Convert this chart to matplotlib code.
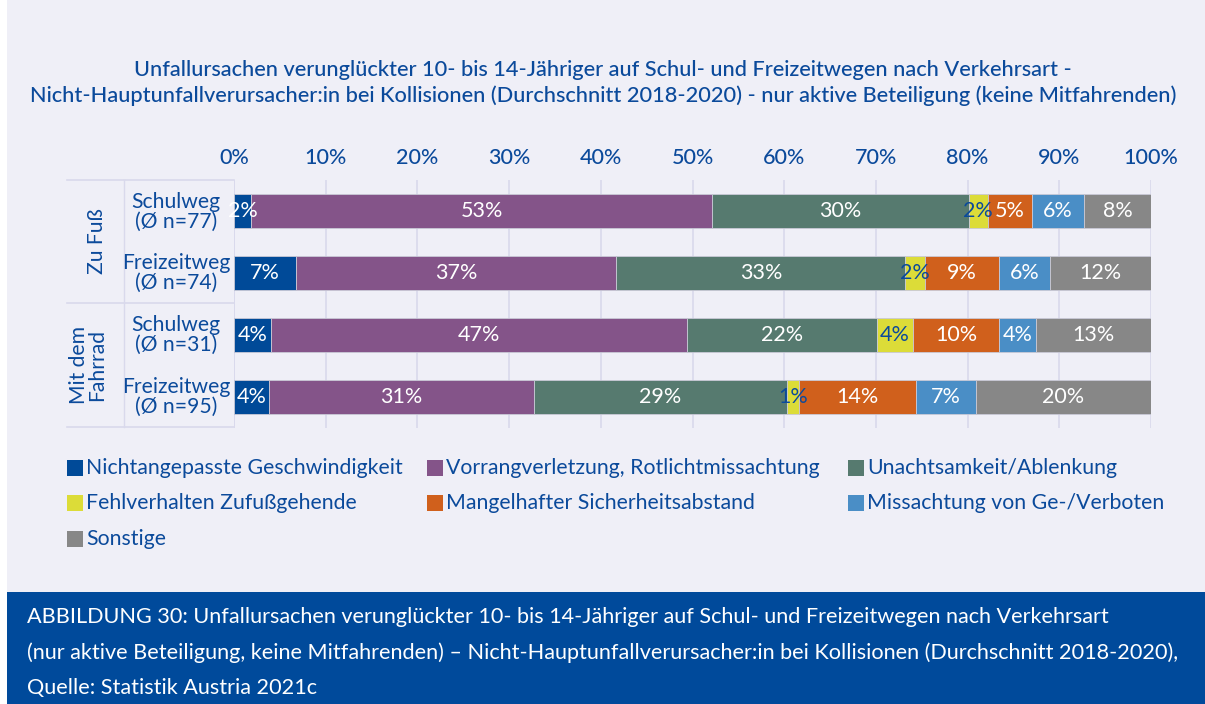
import numpy as np
import matplotlib.pyplot as plt
from matplotlib.patches import Rectangle

plt.rcParams['font.family'] = ['Lato', 'DejaVu Sans']

W, H = 1205, 704

categories = ["Nichtangepasste Geschwindigkeit", "Vorrangverletzung, Rotlichtmissachtung",
              "Unachtsamkeit/Ablenkung", "Fehlverhalten Zufußgehende",
              "Mangelhafter Sicherheitsabstand", "Missachtung von Ge-/Verboten", "Sonstige"]
colors = ["#004a98", "#845489", "#567a6f", "#dcdc38", "#d0601c", "#4a8ec6", "#878787"]

rows = ["Schulweg\n(Ø n=77)", "Freizeitweg\n(Ø n=74)", "Schulweg\n(Ø n=31)", "Freizeitweg\n(Ø n=95)"]
groups = ["Zu Fuß", "Mit dem\nFahrrad"]

# segment widths (bar lengths as drawn, in %)
widths = np.array([
    [1.9, 50.2, 28.0, 2.1, 4.8, 5.7, 7.3],
    [6.8, 34.9, 31.5, 2.1, 8.1, 5.6, 11.0],
    [4.0, 45.4, 20.7, 4.0, 9.3, 4.1, 12.5],
    [3.8, 28.9, 27.6, 1.3, 12.8, 6.5, 19.1],
])
# printed value labels
labels = [
    ["2%", "53%", "30%", "2%", "5%", "6%", "8%"],
    ["7%", "37%", "33%", "2%", "9%", "6%", "12%"],
    ["4%", "47%", "22%", "4%", "10%", "4%", "13%"],
    ["4%", "31%", "29%", "1%", "14%", "7%", "20%"],
]

bg = "#efeff7"
navy = "#0b4a9b"
gridc = "#d9d9ec"

fig = plt.figure(figsize=(W / 100, H / 100), dpi=100)
fig.patch.set_facecolor("white")

def fx(px):
    return px / W

def fy(py):
    return 1 - py / H

# panel background and bottom banner
fig.patches.append(Rectangle((fx(7), fy(592)), fx(1198), 592 / H, transform=fig.transFigure,
                             facecolor=bg, edgecolor="none", zorder=-10))
fig.patches.append(Rectangle((fx(7), 0), fx(1198), 112 / H, transform=fig.transFigure,
                             facecolor="#004a9b", edgecolor="none", zorder=-10))

ax = fig.add_axes([fx(234), fy(428), fx(917), 248 / H])
ax.set_facecolor(bg)
ax.set_xlim(0, 100)
ax.set_ylim(3.5, -0.5)

y = np.arange(len(rows))
left = np.zeros(len(rows))
for j, cat in enumerate(categories):
    ax.barh(y, widths[:, j], left=left, height=0.55, color=colors[j],
            edgecolor="#c9c9d6", linewidth=0.6, zorder=3, label=cat)
    for i in range(len(rows)):
        tc = navy if j == 3 else "white"
        ax.text(left[i] + widths[i, j] / 2, y[i], labels[i][j], ha="center", va="center",
                color=tc, fontsize=15.5, zorder=4)
    left += widths[:, j]

ax.xaxis.tick_top()
ax.set_xticks(np.arange(0, 101, 10))
ax.set_xticklabels([f"{t}%" for t in range(0, 101, 10)], fontsize=15.5, color=navy,
                   fontweight="medium")
ax.tick_params(axis="x", length=0, pad=9)
ax.set_yticks([])
ax.grid(axis="x", color=gridc, linewidth=1.2, zorder=0)
for s in ax.spines.values():
    s.set_visible(False)
ax.axvline(0, color=gridc, linewidth=1.2, zorder=1)

# left label box
for py in [180, 303, 427]:
    fig.add_artist(plt.Line2D([fx(67), fx(234)], [fy(py), fy(py)], color=gridc, linewidth=1.2))
fig.add_artist(plt.Line2D([fx(124), fx(124)], [fy(180), fy(427)], color=gridc, linewidth=1))

for i, r in enumerate(rows):
    yc = [211, 272, 334, 396][i]
    fig.text(fx(176), fy(yc + 1), r, ha="center", va="center", fontsize=15.2, color=navy,
             linespacing=0.95)
fig.text(fx(97), fy(241), groups[0], ha="center", va="center", rotation=90,
         fontsize=15.2, color=navy)
fig.text(fx(88), fy(365), groups[1], ha="center", va="center", rotation=90,
         fontsize=15.2, color=navy, linespacing=0.9)

# title
fig.text(fx(603), fy(83), "Unfallursachen verunglückter 10- bis 14-Jähriger auf Schul- und Freizeitwegen nach Verkehrsart -\n"
         "Nicht-Hauptunfallverursacher:in bei Kollisionen (Durchschnitt 2018-2020) - nur aktive Beteiligung (keine Mitfahrenden)",
         ha="center", va="center", fontsize=15.7, color=navy, linespacing=1.35,
         fontweight="medium")

# legend (row-wise, three columns)
col_x = [67, 427, 848]
row_y = [468, 503, 539]
for k, cat in enumerate(categories):
    cx = col_x[k % 3]
    cy = row_y[k // 3]
    fig.patches.append(Rectangle((fx(cx), fy(cy + 8)), fx(16), 16 / H, transform=fig.transFigure,
                                 facecolor=colors[k], edgecolor="none"))
    fig.text(fx(cx + 19), fy(cy), cat, ha="left", va="center", fontsize=15.3, color=navy)

# caption
cap = ["ABBILDUNG 30: Unfallursachen verunglückter 10- bis 14-Jähriger auf Schul- und Freizeitwegen nach Verkehrsart",
       "(nur aktive Beteiligung, keine Mitfahrenden) – Nicht-Hauptunfallverursacher:in bei Kollisionen (Durchschnitt 2018-2020),",
       "Quelle: Statistik Austria 2021c"]
for line, py in zip(cap, [617, 653, 688]):
    fig.text(fx(27), fy(py), line, ha="left", va="center", fontsize=15.6, color="white")

fig.savefig("out.png", dpi=100, facecolor=fig.get_facecolor())
